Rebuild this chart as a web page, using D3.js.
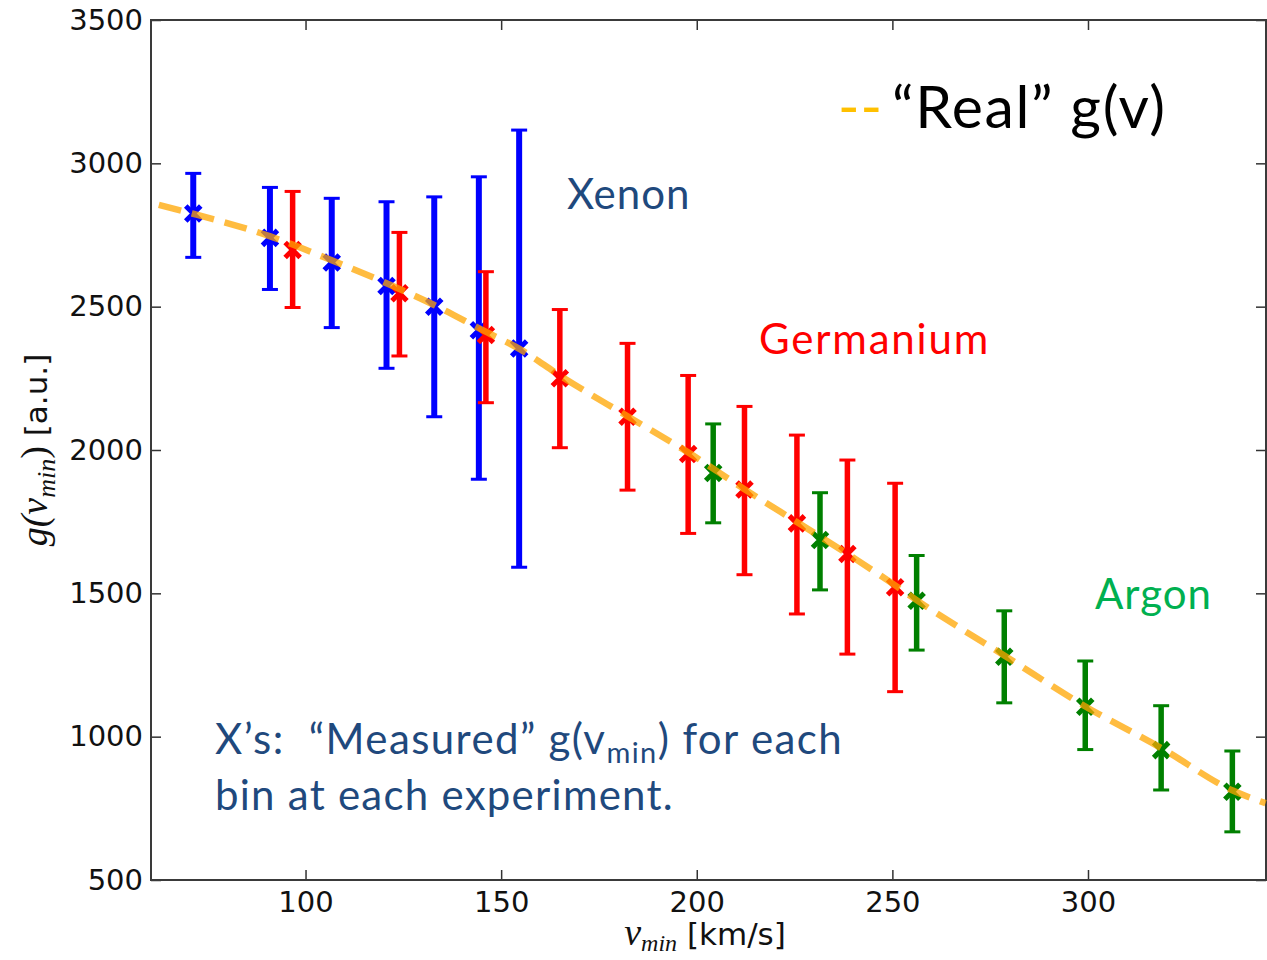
<!DOCTYPE html>
<html>
<head>
<meta charset="utf-8">
<script src="https://cdn.jsdelivr.net/npm/d3@7"></script>
<style>
  html, body { margin: 0; padding: 0; background: #fff; }
  svg text { white-space: pre; }
</style>
</head>
<body>
<svg id="chart" width="1267" height="960"></svg>
<script>
// ---------------- data ----------------
const xTicks = [100, 150, 200, 250, 300];
const yTicks = [500, 1000, 1500, 2000, 2500, 3000, 3500];

const xenonV  = [71.3, 90.9, 106.7, 120.7, 132.9, 144.3, 154.6];
const xenonG  = [2825, 2740, 2654, 2572, 2500, 2418, 2354];
const xenonLo = [2672, 2560, 2427, 2285, 2116, 1898, 1591];
const xenonHi = [2965, 2916, 2878, 2866, 2883, 2953, 3116];

const germV  = [96.7, 124.0, 146.1, 165.0, 182.3, 197.8, 212.2, 225.6, 238.5, 250.7];
const germG  = [2698, 2547, 2401, 2250, 2116, 1986, 1862, 1744, 1637, 1521];
const germLo = [2497, 2328, 2165, 2008, 1860, 1709, 1565, 1428, 1288, 1157];
const germHi = [2902, 2759, 2622, 2490, 2372, 2260, 2152, 2052, 1965, 1884];

const argonV  = [204.2, 231.5, 256.2, 278.6, 299.3, 318.7, 336.9];
const argonG  = [1920, 1686, 1474, 1279, 1104, 953, 808];
const argonLo = [1746, 1512, 1302, 1118, 955, 814, 668];
const argonHi = [2091, 1851, 1632, 1439, 1264, 1108, 950];

const realV = [62.5, 71, 91, 107, 121, 133, 145, 155, 165, 182, 198, 212, 226, 238.5, 251, 256, 279, 299, 319, 337, 345.4];
const realG = [2855, 2825, 2745, 2660, 2580, 2505, 2420, 2350, 2260, 2120, 1990, 1865, 1745, 1638, 1525, 1478, 1280, 1108, 958, 812, 768];

// ---------------- chart ----------------
const svg = d3.select("#chart");
const L = 151, R = 1266, T = 20, B = 880;
const x = d3.scaleLinear().domain([60.5, 345.5]).range([L, R]);
const y = d3.scaleLinear().domain([500, 3500]).range([B, T]);

const tickFont = "'DejaVu Sans', sans-serif";
const fmt = d3.format("d");

// axes (inward ticks on all four sides)
const gx = svg.append("g").attr("transform", `translate(0,${B})`)
  .call(d3.axisBottom(x).tickValues(xTicks).tickFormat(fmt).tickSizeInner(-10).tickSizeOuter(0).tickPadding(11));
const gxt = svg.append("g").attr("transform", `translate(0,${T})`)
  .call(d3.axisTop(x).tickValues(xTicks).tickSizeInner(-10).tickSizeOuter(0).tickFormat(""));
const gy = svg.append("g").attr("transform", `translate(${L},0)`)
  .call(d3.axisLeft(y).tickValues(yTicks).tickFormat(fmt).tickSizeInner(-10).tickSizeOuter(0).tickPadding(8));
const gyr = svg.append("g").attr("transform", `translate(${R},0)`)
  .call(d3.axisRight(y).tickValues(yTicks).tickSizeInner(-10).tickSizeOuter(0).tickFormat(""));
[gx, gxt, gy, gyr].forEach(g => {
  g.select(".domain").remove();
  g.selectAll(".tick line").attr("stroke", "#333").attr("stroke-width", 1.5);
  g.selectAll(".tick text").attr("font-family", tickFont).attr("font-size", 29).attr("fill", "#111");
});

svg.append("rect").attr("x", L).attr("y", T).attr("width", R - L).attr("height", B - T)
  .attr("fill", "none").attr("stroke", "#3a3a3a").attr("stroke-width", 2);

// error bars + X markers
function drawSeries(vs, gs, lo, hi, color, barW) {
  const g = svg.append("g");
  vs.forEach((v, i) => {
    const cx = x(v);
    g.append("line").attr("x1", cx).attr("x2", cx).attr("y1", y(lo[i])).attr("y2", y(hi[i]))
      .attr("stroke", color).attr("stroke-width", barW);
    [lo[i], hi[i]].forEach(e => {
      g.append("line").attr("x1", cx - 8).attr("x2", cx + 8).attr("y1", y(e)).attr("y2", y(e))
        .attr("stroke", color).attr("stroke-width", 3);
    });
    const cy = y(gs[i]), s = 7.5;
    g.append("path").attr("d", `M${cx - s},${cy - s}L${cx + s},${cy + s}M${cx - s},${cy + s}L${cx + s},${cy - s}`)
      .attr("stroke", color).attr("stroke-width", 5).attr("fill", "none");
  });
}
drawSeries(xenonV, xenonG, xenonLo, xenonHi, "#0000FF", 6);
drawSeries(germV, germG, germLo, germHi, "#FF0000", 5.5);
drawSeries(argonV, argonG, argonLo, argonHi, "#008000", 5.5);

// "real" curve
const line = d3.line().x((d, i) => x(realV[i])).y(d => y(d)).curve(d3.curveMonotoneX);
svg.append("path").datum(realG).attr("d", line)
  .attr("fill", "none").attr("stroke", "#FFA500").attr("stroke-opacity", 0.75)
  .attr("stroke-width", 6.5).attr("stroke-dasharray", "23,11");

// axis labels
const mathFont = "'Liberation Serif', serif";
const yl = svg.append("text").attr("transform", "translate(47,450) rotate(-90)")
  .attr("text-anchor", "middle").attr("font-size", 31).attr("fill", "#111");
yl.append("tspan").attr("font-family", mathFont).attr("font-style", "italic").attr("font-size", 38).text("g(v");
yl.append("tspan").attr("font-family", mathFont).attr("font-style", "italic").attr("font-size", 26).attr("dy", 8).text("min");
yl.append("tspan").attr("font-family", mathFont).attr("font-size", 38).attr("dy", -8).text(")");
yl.append("tspan").attr("font-family", tickFont).text(" [a.u.]");

const xl = svg.append("text").attr("transform", "translate(705,945)")
  .attr("text-anchor", "middle").attr("font-size", 31).attr("fill", "#111");
xl.append("tspan").attr("font-family", mathFont).attr("font-style", "italic").attr("font-size", 38).text("v");
xl.append("tspan").attr("font-family", mathFont).attr("font-style", "italic").attr("font-size", 24).attr("dy", 6).text("min");
xl.append("tspan").attr("font-family", tickFont).attr("dy", -6).text(" [km/s]");

// annotations
const annFont = "Lato, 'Open Sans', sans-serif";
const navy = "#1F497D";
function ann(xp, yp, size, ls, color, txt) {
  return svg.append("text").attr("x", xp).attr("y", yp).attr("font-family", annFont)
    .attr("font-size", size).attr("letter-spacing", ls).attr("fill", color).text(txt);
}
ann(567, 209, 42, 1, navy, "Xenon");
ann(759, 354, 42, 1.8, "#FF0000", "Germanium");
ann(1095, 609, 42, 1, "#00B050", "Argon");
ann(838, 127, 58, 1, "#FFC000", "--");
ann(892, 128, 59, 1.6, "#000", "“Real” g(v)");

const a1 = svg.append("text").attr("x", 215).attr("y", 754).attr("font-family", annFont)
  .attr("font-size", 42).attr("letter-spacing", 1.4).attr("fill", navy);
a1.append("tspan").text("X’s:  “Measured” g(v");
a1.append("tspan").attr("font-size", 29).attr("dy", 9).text("min");
a1.append("tspan").attr("dy", -9).text(") for each");
ann(215, 810, 42, 1.25, navy, "bin at each experiment.");
</script>
</body>
</html>
